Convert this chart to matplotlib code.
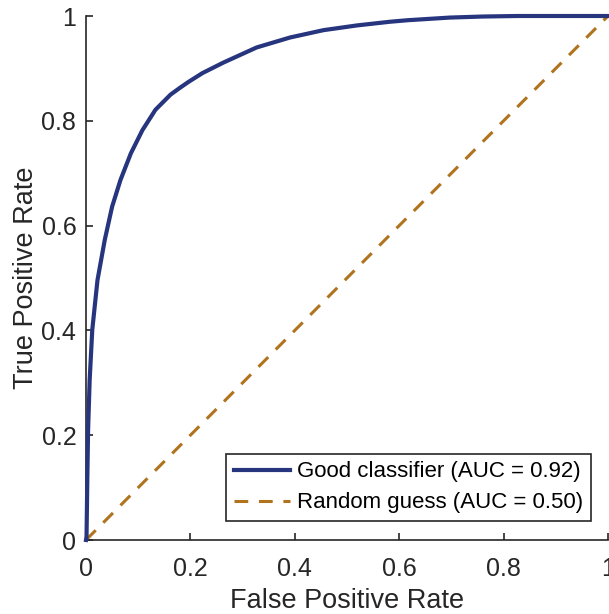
import matplotlib
matplotlib.use("Agg")
import matplotlib.pyplot as plt

# ROC points
good_fpr = [0.0, 0.001, 0.0025, 0.004, 0.007, 0.012, 0.022, 0.036, 0.050, 0.066,
            0.086, 0.108, 0.133, 0.162, 0.18, 0.196, 0.223, 0.263, 0.327, 0.391,
            0.455, 0.519, 0.582, 0.617, 0.697, 0.76, 0.826, 0.9, 1.0]
good_tpr = [0.0, 0.006, 0.115, 0.210, 0.305, 0.401, 0.496, 0.573, 0.636, 0.687,
            0.738, 0.782, 0.821, 0.850, 0.863, 0.874, 0.891, 0.911, 0.940, 0.959,
            0.973, 0.982, 0.989, 0.992, 0.997, 0.999, 1.0, 1.0, 1.0]
rand_fpr = [0.0, 1.0]
rand_tpr = [0.0, 1.0]

labels = ["Good classifier (AUC = 0.92)", "Random guess (AUC = 0.50)"]
ticks = [0, 0.2, 0.4, 0.6, 0.8, 1]
tick_labels = ["0", "0.2", "0.4", "0.6", "0.8", "1"]

plt.rcParams['font.family'] = ['Liberation Sans', 'DejaVu Sans']

fig = plt.figure(figsize=(6.09, 6.14), dpi=100)
ax = fig.add_axes([86 / 609, 74 / 614, 522 / 609, 524 / 614])

ax.plot(good_fpr, good_tpr, color='#27357f', lw=3.0, label=labels[0],
        clip_on=False, zorder=3, solid_joinstyle='round')
ax.plot(rand_fpr, rand_tpr, color='#b0731e', lw=2.2, ls=(0, (4.5, 3.5)),
        label=labels[1], clip_on=False, zorder=2)

ax.set_xlim(0, 1)
ax.set_ylim(0, 1)
ax.set_xticks(ticks)
ax.set_xticklabels(tick_labels)
ax.set_yticks(ticks)
ax.set_yticklabels(tick_labels)

for side in ['top', 'right']:
    ax.spines[side].set_visible(False)
for side in ['left', 'bottom']:
    ax.spines[side].set_color('#262626')
    ax.spines[side].set_linewidth(1.2)

ax.tick_params(direction='in', length=5, width=1.2, colors='#262626',
               labelsize=18, pad=7)
ax.tick_params(axis='x', pad=12)
ax.set_xlabel("False Positive Rate", fontsize=19.5, color='#262626', labelpad=5)
ax.set_ylabel("True Positive Rate", fontsize=19.5, color='#262626', labelpad=2)

leg = ax.legend(loc='lower right', bbox_to_anchor=(0.967, 0.036), fontsize=16,
                frameon=True, fancybox=False, handlelength=2.55,
                handletextpad=0.3, borderpad=0.35, labelspacing=0.45,
                borderaxespad=0.0)
leg.get_frame().set_edgecolor('#262626')
leg.get_frame().set_linewidth(1.2)
leg.get_frame().set_alpha(1)

fig.savefig("out.png", dpi=100)
